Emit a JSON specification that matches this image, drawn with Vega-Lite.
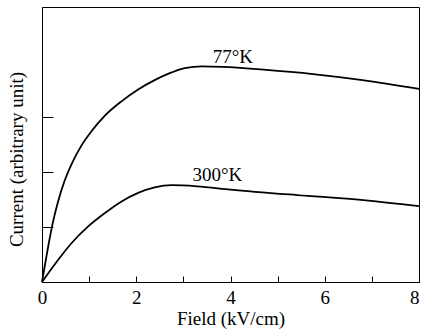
{
  "$schema": "https://vega.github.io/schema/vega-lite/v6.json",
  "autosize": {"type": "none"},
  "width": 377,
  "height": 275,
  "padding": {"left": 42, "top": 7, "right": 3, "bottom": 47},
  "background": "white",
  "config": {
    "view": {"stroke": "black", "strokeWidth": 1},
    "font": "Liberation Serif",
    "axis": {"grid": false, "domainColor": "black", "tickColor": "black", "labelColor": "black", "titleColor": "black", "labelFont": "Liberation Serif", "titleFont": "Liberation Serif", "titleFontWeight": "normal"}
  },
  "datasets": {
    "curves": [
      {"field": 0, "current": 0, "temp": "77K"},
      {"field": 0.06, "current": 0.3, "temp": "77K"},
      {"field": 0.13, "current": 0.64, "temp": "77K"},
      {"field": 0.23, "current": 1.08, "temp": "77K"},
      {"field": 0.34, "current": 1.46, "temp": "77K"},
      {"field": 0.48, "current": 1.84, "temp": "77K"},
      {"field": 0.62, "current": 2.13, "temp": "77K"},
      {"field": 0.83, "current": 2.47, "temp": "77K"},
      {"field": 1.05, "current": 2.74, "temp": "77K"},
      {"field": 1.33, "current": 3.02, "temp": "77K"},
      {"field": 1.68, "current": 3.28, "temp": "77K"},
      {"field": 2.04, "current": 3.5, "temp": "77K"},
      {"field": 2.39, "current": 3.67, "temp": "77K"},
      {"field": 2.75, "current": 3.81, "temp": "77K"},
      {"field": 3.03, "current": 3.89, "temp": "77K"},
      {"field": 3.4, "current": 3.92, "temp": "77K"},
      {"field": 3.85, "current": 3.91, "temp": "77K"},
      {"field": 4.7, "current": 3.86, "temp": "77K"},
      {"field": 5.75, "current": 3.78, "temp": "77K"},
      {"field": 6.8, "current": 3.67, "temp": "77K"},
      {"field": 8.0, "current": 3.51, "temp": "77K"},
      {"field": 0, "current": 0, "temp": "300K"},
      {"field": 0.34, "current": 0.4, "temp": "300K"},
      {"field": 0.62, "current": 0.7, "temp": "300K"},
      {"field": 0.98, "current": 1.01, "temp": "300K"},
      {"field": 1.33, "current": 1.25, "temp": "300K"},
      {"field": 1.68, "current": 1.46, "temp": "300K"},
      {"field": 2.04, "current": 1.62, "temp": "300K"},
      {"field": 2.39, "current": 1.72, "temp": "300K"},
      {"field": 2.75, "current": 1.76, "temp": "300K"},
      {"field": 3.29, "current": 1.74, "temp": "300K"},
      {"field": 4.0, "current": 1.68, "temp": "300K"},
      {"field": 5.41, "current": 1.58, "temp": "300K"},
      {"field": 6.82, "current": 1.49, "temp": "300K"},
      {"field": 8.0, "current": 1.38, "temp": "300K"}
    ],
    "labels": [
      {"field": 4.05, "current": 4.09, "text": "77°K"},
      {"field": 3.72, "current": 1.95, "text": "300°K"}
    ]
  },
  "layer": [
    {
      "data": {"name": "curves"},
      "mark": {"type": "line", "color": "black", "strokeWidth": 1.8, "interpolate": "monotone"},
      "encoding": {
        "x": {"field": "field", "type": "quantitative", "scale": {"domain": [0, 8], "nice": false},
          "axis": {"title": "Field (kV/cm)", "values": [0, 1, 2, 3, 4, 5, 6, 7, 8], "labelExpr": "datum.value % 2 === 0 ? datum.label : ''", "tickSize": -6, "labelPadding": 12, "labelFontSize": 19, "titleFontSize": 19, "titlePadding": 2, "labelFlush": false, "labelAlign": {"condition": {"test": "datum.value === 8", "value": "right"}, "value": "center"}}},
        "y": {"field": "current", "type": "quantitative", "scale": {"domain": [0, 5], "nice": false},
          "axis": {"title": "Current (arbitrary unit)", "values": [1, 2, 3], "labels": false, "tickSize": -11, "titleFontSize": 19, "titleX": -26, "titleY": 152, "titleBaseline": "middle", "titleAngle": -90}},
        "detail": {"field": "temp"}
      }
    },
    {
      "data": {"name": "labels"},
      "mark": {"type": "text", "fontSize": 19, "font": "Liberation Serif", "color": "black"},
      "encoding": {
        "x": {"field": "field", "type": "quantitative"},
        "y": {"field": "current", "type": "quantitative"},
        "text": {"field": "text"}
      }
    }
  ]
}
